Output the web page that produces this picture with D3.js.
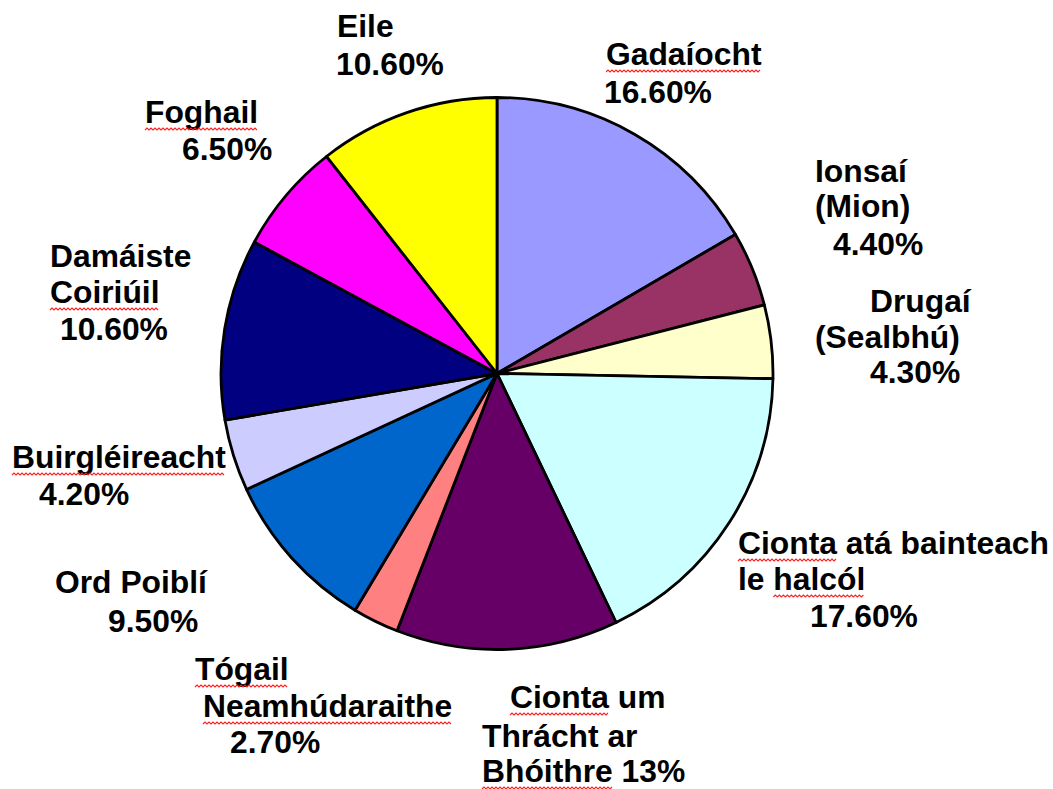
<!DOCTYPE html>
<html>
<head>
<meta charset="utf-8">
<script src="https://cdn.jsdelivr.net/npm/d3@7"></script>
<style>
  body { margin: 0; background: #fff; }
  .lbl { font-family: "Liberation Sans", Arial, sans-serif; font-weight: bold; font-size: 31.8px; fill: #000; }
</style>
</head>
<body>
<svg class="canvas"></svg>
<script>
// slices clockwise from 12 o'clock
var categories = ["Gadaíocht", "Ionsaí (Mion)", "Drugaí (Sealbhú)", "Cionta atá bainteach le halcól",
  "Cionta um Thrácht ar Bhóithre", "Tógail Neamhúdaraithe", "Ord Poiblí", "Buirgléireacht",
  "Damáiste Coiriúil", "Foghail", "Eile"];
var values = [16.6, 4.4, 4.3, 17.6, 13, 2.7, 9.5, 4.2, 10.6, 6.5, 10.6];
var colors = ["#9999ff", "#993366", "#ffffcc", "#ccffff", "#660066", "#ff8080", "#0066cc",
  "#ccccff", "#000080", "#ff00ff", "#ffff00"];

// label text, line by line; words flagged by the spell checker get a red squiggle
var labelLines = [
  ["Gadaíocht", "16.60%"],
  ["Ionsaí", "(Mion)", "4.40%"],
  ["Drugaí", "(Sealbhú)", "4.30%"],
  ["Cionta atá bainteach", "le halcól", "17.60%"],
  ["Cionta um", "Thrácht ar", "Bhóithre 13%"],
  ["Tógail", "Neamhúdaraithe", "2.70%"],
  ["Ord Poiblí", "9.50%"],
  ["Buirgléireacht", "4.20%"],
  ["Damáiste", "Coiriúil", "10.60%"],
  ["Foghail", "6.50%"],
  ["Eile", "10.60%"]
];
var squiggled = ["Gadaíocht", "Foghail", "Coiriúil", "Buirgléireacht", "Cionta", "halcól",
  "Tógail", "Neamhúdaraithe", "Bhóithre"];

// where each label line starts: [x, baseline]
var labelPos = [
  [[606, 65], [604, 103]],
  [[815, 182], [815, 217], [833, 255]],
  [[870, 312], [815, 348], [870, 383]],
  [[738, 554], [738, 590], [810, 627]],
  [[510, 708], [482, 747], [482, 782]],
  [[195, 680], [203, 717], [230, 753]],
  [[55, 593], [108, 632]],
  [[12, 468], [39, 505]],
  [[50, 267], [50, 303], [60, 340]],
  [[145, 123], [182, 160]],
  [[337, 37], [336, 75]]
];

var width = 1053, height = 789;
var cx = 497, cy = 373.5, radius = 276;

var svg = d3.select(".canvas").attr("width", width).attr("height", height);

var pie = d3.pie().sort(null).value(function(d) { return d; });
var arc = d3.arc().innerRadius(0).outerRadius(radius);

var g = svg.append("g").attr("transform", "translate(" + cx + "," + cy + ")");
g.selectAll("path")
  .data(pie(values))
  .enter()
  .append("path")
  .attr("d", arc)
  .attr("fill", function(d, i) { return colors[i]; })
  .attr("stroke", "#000")
  .attr("stroke-width", 2.8)
  .attr("stroke-linejoin", "round");

function squiggle(x0, x1, y) {
  var p = "M" + x0 + "," + y;
  var up = true;
  for (var x = x0 + 2; x <= x1; x += 2) {
    p += "L" + x + "," + (up ? y - 2 : y);
    up = !up;
  }
  return p;
}

labelLines.forEach(function(lines, i) {
  lines.forEach(function(line, j) {
    var pos = labelPos[i][j];
    var t = svg.append("text").attr("class", "lbl").attr("x", pos[0]).attr("y", pos[1]);
    var words = line.split(" ");
    words.forEach(function(w, k) {
      t.append("tspan").text(w + (k < words.length - 1 ? " " : ""));
    });
    var node = t.node();
    var offset = 0;
    words.forEach(function(w, k) {
      if (squiggled.indexOf(w) >= 0) {
        var start = node.getSubStringLength(0, offset);
        var len = node.getSubStringLength(offset, w.length);
        svg.append("path")
          .attr("d", squiggle(pos[0] + start, pos[0] + start + len, pos[1] + 7))
          .attr("fill", "none")
          .attr("stroke", "#ff2020")
          .attr("stroke-width", 1.1);
      }
      offset += w.length + 1;
    });
  });
});
</script>
</body>
</html>
